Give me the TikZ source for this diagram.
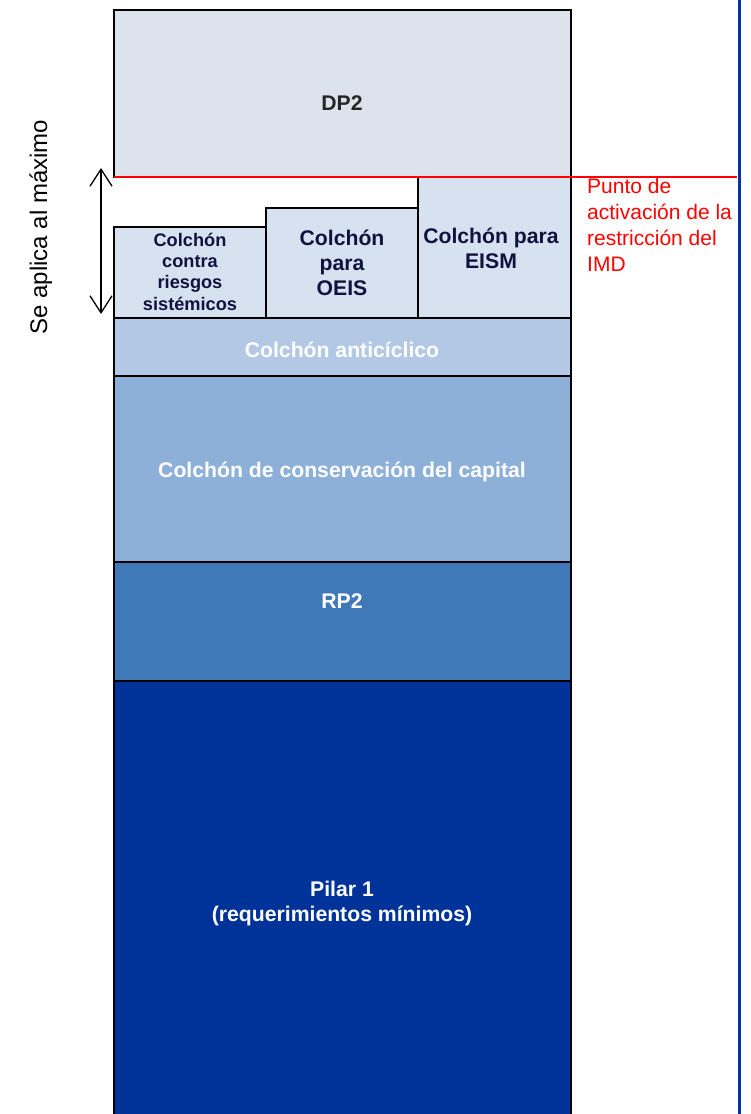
\documentclass[tikz,border=0pt]{standalone}
\usepackage{fontspec}
\setmainfont{Liberation Sans}
\usetikzlibrary{arrows.meta}
\definecolor{dpfill}{HTML}{DCE3EC}
\definecolor{smallfill}{HTML}{D7E2F1}
\definecolor{anticfill}{HTML}{B2C8E4}
\definecolor{consfill}{HTML}{8CB0D8}
\definecolor{rpfill}{HTML}{3F79B7}
\definecolor{pilfill}{HTML}{003399}
\definecolor{bluerule}{HTML}{0033A0}
\definecolor{navytext}{HTML}{12123F}
\definecolor{darktext}{HTML}{262626}
\definecolor{redtext}{HTML}{FF0000}
\begin{document}
\begin{tikzpicture}[x=1pt,y=-1pt,
  layer/.style={draw=black,line width=2pt,rectangle,inner sep=0pt,outer sep=0pt,anchor=north west},
  big/.style={font=\bfseries\fontsize{21.2}{25}\selectfont,inner sep=0pt,align=center},
  small/.style={font=\bfseries\fontsize{18.2}{21.3}\selectfont,inner sep=0pt,align=center,text=navytext},
  note/.style={font=\fontsize{21}{25.7}\selectfont,inner sep=0pt,align=left,text=redtext},
  span/.style={line width=1.3pt,>={Straight Barb[length=17pt,width=22pt,line width=1.3pt]},<->}]
\useasboundingbox (0,0) rectangle (751,1114);
% boxes
\node[layer,fill=dpfill,minimum width=457pt,minimum height=167pt] (dp) at (114,10) {};
\node[layer,fill=smallfill,minimum width=152pt,minimum height=91pt] (srb) at (114,227) {};
\node[layer,fill=smallfill,minimum width=152pt,minimum height=110pt] (oeis) at (266,208) {};
\node[layer,fill=smallfill,minimum width=153pt,minimum height=141pt] (eism) at (418,177) {};
\node[layer,fill=anticfill,minimum width=457pt,minimum height=58pt] (antic) at (114,318) {};
\node[layer,fill=consfill,minimum width=457pt,minimum height=186pt] (cons) at (114,376) {};
\node[layer,fill=rpfill,minimum width=457pt,minimum height=119pt] (rp) at (114,562) {};
\node[layer,fill=pilfill,minimum width=457pt,minimum height=445pt] (pil) at (114,681) {};
% labels (base anchor = baseline of the last line)
\node[big,text=darktext,anchor=base] (dpl) at (342,110) {DP2};
\node[small,anchor=base] (srbl) at (190,310) {Colchón\\contra\\riesgos\\sistémicos};
\node[big,text=navytext,anchor=base] (oeisl) at (342,295) {Colchón\\para\\OEIS};
\node[big,text=navytext,anchor=base] (eisml) at (491,268) {Colchón para\\EISM};
\node[big,text=white,anchor=base] (anticl) at (342,357) {Colchón anticíclico};
\node[big,text=white,anchor=base] (consl) at (342,477) {Colchón de conservación del capital};
\node[big,text=white,anchor=base] (rpl) at (342,608) {RP2};
\node[big,text=white,anchor=base] (pill) at (342,921) {Pilar 1\\(requerimientos mínimos)};
% red activation line and note
\coordinate (redend) at (737,177);
\draw[redtext,line width=1.5pt] (dp.south west) -- (redend);
\node[note,anchor=base west] (notel) at (587,271) {Punto de\\activación de la\\restricción del\\IMD};
% right blue rule
\coordinate (bluetop) at (739.5,0);
\coordinate (bluebot) at (739.5,1114);
\draw[bluerule,line width=3pt] (bluetop) -- (bluebot);
% double arrow
\coordinate (atop) at (101,168);
\coordinate (abot) at (101,314);
\draw[span] (atop) -- (abot);
\node[font=\fontsize{24}{28}\selectfont,rotate=90,anchor=base,inner sep=0pt] (applies) at (47,227) {Se aplica al máximo};
\end{tikzpicture}
\end{document}
